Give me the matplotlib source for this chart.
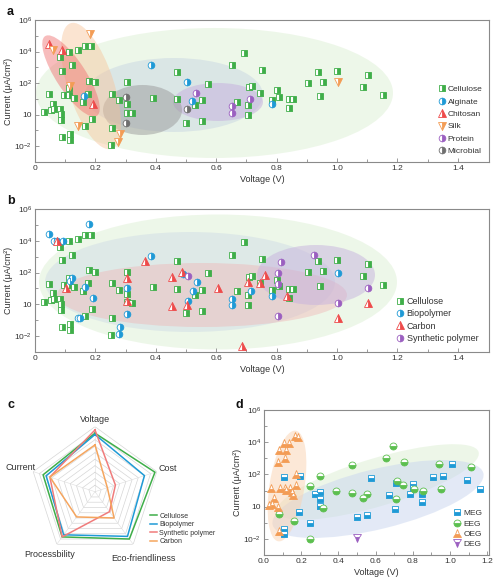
import numpy as np
import matplotlib
matplotlib.use('Agg')
import matplotlib.pyplot as plt
from matplotlib.patches import Ellipse
from matplotlib.transforms import Affine2D
from matplotlib.ticker import FixedLocator, NullFormatter

plt.rcParams['font.family'] = ['Liberation Sans', 'DejaVu Sans']
plt.rcParams['mathtext.fontset'] = 'custom'
plt.rcParams['mathtext.rm'] = 'Liberation Sans'
plt.rcParams['mathtext.it'] = 'Liberation Sans:italic'

# ---------------- data (voltage in V, log10 of current in uA/cm2) ----------------
cellulose_v = [0.031, 0.046, 0.052, 0.058, 0.063, 0.083, 0.085, 0.085, 0.083, 0.088, 0.088,
               0.116, 0.116, 0.114, 0.121, 0.143, 0.166, 0.185, 0.097, 0.114, 0.129, 0.114,
               0.158, 0.180, 0.199, 0.176, 0.190, 0.166, 0.254, 0.278, 0.254, 0.252, 0.304,
               0.304, 0.304, 0.320, 0.390, 0.469, 0.469, 0.500, 0.530, 0.554, 0.554, 0.572,
               0.651, 0.670, 0.693, 0.710, 0.720, 0.705, 0.705, 0.745, 0.753, 0.783, 0.802,
               0.807, 0.840, 0.855, 0.840, 0.903, 0.938, 0.954, 0.945, 1.000, 1.085, 1.104, 1.153]
cellulose_logi = [0.17, 1.28, 0.28, 0.70, 0.34, 0.35, 0.05, -0.33, 3.63, 2.79, -1.44,
                  -1.23, -1.61, 3.97, 3.13, 4.11, 4.38, 4.38, 1.24, 1.24, 1.08, 1.66,
                  0.82, 2.16, 2.06, 1.33, -0.29, -0.71, 1.33, 0.90, -0.87, -1.92, 2.06,
                  0.65, 0.13, 0.09, 1.08, 2.71, 0.97, -0.56, 0.60, 0.90, -0.43, 1.96,
                  3.13, 0.83, 3.90, 1.74, 1.80, 0.61, -0.02, 1.35, 2.86, 0.93, 1.56,
                  1.14, 0.97, 0.97, 0.40, 2.02, 2.71, 2.08, 1.18, 2.79, 1.77, 2.54, 1.22]

alginate_v = [0.383, 0.502, 0.163, 0.520, 0.784]
alginate_logi = [3.13, 2.06, 1.18, 0.87, 0.67]
chitosan_v = [0.045, 0.089, 0.192]
chitosan_logi = [4.45, 4.11, 0.65]
silk_v = [0.058, 0.181, 0.116, 0.143, 0.281, 0.276, 1.004]
silk_logi = [4.09, 5.13, 1.80, -0.71, -1.23, -1.72, 2.06]
protein_v = [0.533, 0.653, 0.653, 0.713]
protein_logi = [1.39, 0.55, 0.10, 0.97]
microbial_v = [0.301, 0.301, 0.504]
microbial_logi = [1.14, -0.50, 0.36]

biopolymer_v = [0.047, 0.062, 0.072, 0.092, 0.180, 0.383, 0.121, 0.116, 0.166, 0.193,
                0.143, 0.149, 0.304, 0.304, 0.281, 0.279, 0.490, 0.535, 0.524, 0.505,
                0.651, 0.651, 0.715, 0.784, 1.004]
biopolymer_logi = [4.40, 3.99, 3.99, 3.99, 5.05, 3.02, 1.66, 1.49, 1.11, 0.43,
                   -0.84, -0.84, 1.00, -0.60, -1.43, -1.85, 1.90, 1.38, 0.81, 0.22,
                   0.33, -0.03, 0.81, 0.54, 1.96]
carbon_v = [0.072, 0.103, 0.304, 0.304, 0.364, 0.453, 0.453, 0.486, 0.502, 0.605,
            0.684, 0.705, 0.744, 0.763, 0.835, 1.004, 1.104]
carbon_logi = [3.99, 1.00, 1.66, 0.18, 2.72, 1.75, -0.10, 2.02, -0.03, 1.03,
               -2.63, 1.38, 1.35, 1.83, 0.54, -0.88, 0.11]
synthetic_v = [0.508, 0.814, 0.923, 0.806, 0.806, 1.104, 1.004, 0.806]
synthetic_logi = [1.81, 2.64, 3.13, 2.00, 1.25, 1.00, 0.11, -0.71]

meg_v = [0.106, 0.196, 0.187, 0.110, 0.110, 0.250, 0.276, 0.303, 0.303, 0.303, 0.500, 0.553,
         0.575, 0.670, 0.710, 0.705, 0.786, 0.803, 0.803, 0.848, 0.848, 0.907, 0.961, 1.009,
         1.093, 1.161]
meg_logi = [1.84, 1.90, -0.34, -1.38, -1.69, -1.00, 0.81, 0.91, 0.45, 0.03, -0.65, -0.50,
            1.78, 0.70, 1.49, -0.13, 0.81, 1.43, 1.16, 0.81, 0.28, 1.84, 1.90, 2.67,
            1.64, 1.12]
eeg_v = [0.080, 0.160, 0.250, 0.303, 0.317, 0.389, 0.250, 0.473, 0.473, 0.532, 0.553, 0.657,
         0.696, 0.714, 0.709, 0.746, 0.753, 0.807, 0.857, 0.943, 0.950, 1.111]
eeg_logi = [-0.44, -0.86, 1.28, 1.90, -0.09, 0.95, -2.00, 0.87, 2.57, 0.53, 0.81, 3.03,
            3.77, 1.57, 0.45, 1.32, 2.74, 1.08, 0.95, 2.63, 1.08, 2.43]
oeg_v = [0.169, 0.183, 0.133, 0.106, 0.119, 0.080, 0.076, 0.112, 0.172, 0.040, 0.088, 0.112,
         0.119, 0.142, 0.172, 0.154, 0.053, 0.026, 0.044, 0.076, 0.080, 0.151]
oeg_logi = [4.38, 4.34, 3.96, 3.92, 3.50, 3.50, 2.78, 2.99, 2.00, 1.18, 1.18, 1.18,
            1.01, 1.18, 1.32, 0.70, 0.56, 0.08, 0.18, -0.03, -1.54, 0.91]
deg_v = [0.50]
deg_logi = [-1.96]

radar_axes = ['Voltage', 'Cost', 'Eco-friendliness', 'Processbility', 'Current']
radar_cellulose = [0.90, 0.97, 0.90, 0.86, 0.84]
radar_biopolymer = [0.88, 0.80, 0.85, 0.82, 0.79]
radar_synthetic = [0.95, 0.33, 0.38, 0.86, 0.73]
radar_carbon = [0.72, 0.20, 0.50, 0.48, 0.73]

# ---------------- styling ----------------
GREEN = '#3fae49'
BLUE = '#1f9ad6'
RED = '#ee4a4a'
ORANGE = '#f39c55'
PURPLE = '#9b5fc0'
GRAY = '#6f6f6f'
FRAME = '#8a8a8a'
TXT = '#333333'

ytick_vals = [1e-2, 1, 1e2, 1e4, 1e6]
ytick_labels = ['10$^{-2}$', '10', '10$^{2}$', '10$^{4}$', '10$^{6}$']
yminor = [1e-1, 1e1, 1e3, 1e5]

fig = plt.figure(figsize=(5.0, 5.85), dpi=100)


def style_axes(ax, xlim, xticks, xticklabels, xminor):
    ax.set_yscale('log')
    ax.set_ylim(1e-3, 1e6)
    ax.set_xlim(*xlim)
    ax.set_yticks(ytick_vals)
    ax.set_yticklabels(ytick_labels)
    ax.yaxis.set_minor_locator(FixedLocator(yminor))
    ax.yaxis.set_minor_formatter(NullFormatter())
    ax.set_xticks(xticks)
    ax.set_xticklabels(xticklabels)
    ax.xaxis.set_minor_locator(FixedLocator(xminor))
    ax.xaxis.set_minor_formatter(NullFormatter())
    ax.tick_params(which='both', direction='in', colors=FRAME, labelcolor=TXT,
                   labelsize=6, width=0.6, pad=2)
    ax.tick_params(which='major', length=3)
    ax.tick_params(which='minor', length=2)
    for s in ax.spines.values():
        s.set_color(FRAME)
        s.set_linewidth(0.8)
    ax.set_xlabel('Voltage (V)', fontsize=6.5, color=TXT, labelpad=2)
    ax.set_ylabel('Current (μA/cm²)', fontsize=6.5, color=TXT, labelpad=1)


def add_region(ax, cx, cy, w, h, angle, color, alpha):
    # region geometry given in pixels relative to the axes' lower-left corner
    W, H = ax.bbox.width, ax.bbox.height
    tr = Affine2D().scale(1.0 / W, 1.0 / H) + ax.transAxes
    e = Ellipse((cx, cy), w, h, angle=angle, transform=tr, facecolor=color,
                alpha=alpha, edgecolor='none', zorder=0)
    ax.add_patch(e)


def pts(ax, v, logi, marker, color, label, fill='right', ms=4.4):
    ax.plot(v, np.power(10.0, logi), linestyle='none', marker=marker, fillstyle=fill,
            markerfacecolor=color, markerfacecoloralt='white', markeredgecolor=color,
            markersize=ms, markeredgewidth=0.6, label=label, zorder=3)


xt = [0, 0.2, 0.4, 0.6, 0.8, 1.0, 1.2, 1.4]
xtl = ['0', '0.2', '0.4', '0.6', '0.8', '1.0', '1.2', '1.4']
xminor_ab = [0.1, 0.3, 0.5, 0.7, 0.9, 1.1, 1.3]

# ---------------- panel a ----------------
axa = fig.add_axes([0.07, 0.7231, 0.908, 0.2427])
style_axes(axa, (0, 1.503), xt, xtl, xminor_ab)
add_region(axa, 179.5, 69, 357, 130, 0, '#d9eecf', 0.45)
add_region(axa, 139, 67, 178, 74, 0, '#c4d2e2', 0.45)
add_region(axa, 183, 60, 90, 38, 0, '#c7b2de', 0.55)
add_region(axa, 107.5, 52, 79, 50, 0, '#9a9a9a', 0.5)
add_region(axa, 56, 76, 132, 46, -72, '#f7c49a', 0.45)
add_region(axa, 36, 86, 95, 30, -57, '#ef6b6b', 0.45)
pts(axa, cellulose_v, cellulose_logi, 's', GREEN, 'Cellulose')
pts(axa, alginate_v, alginate_logi, 'o', BLUE, 'Alginate', ms=4.8)
pts(axa, chitosan_v, chitosan_logi, '^', RED, 'Chitosan', ms=5.2)
pts(axa, silk_v, silk_logi, 'v', ORANGE, 'Silk', ms=5.2)
pts(axa, protein_v, protein_logi, 'o', PURPLE, 'Protein', ms=4.8)
pts(axa, microbial_v, microbial_logi, 'o', GRAY, 'Microbial', ms=4.8)
axa.legend(loc='lower right', frameon=False, fontsize=6, handletextpad=0.2,
           labelspacing=0.55, borderaxespad=0.4, handlelength=1.0, labelcolor=TXT)

# ---------------- panel b ----------------
axb = fig.add_axes([0.07, 0.3983, 0.908, 0.2444])
style_axes(axb, (0, 1.503), xt, xtl, xminor_ab)
add_region(axb, 183, 70, 358, 135, 0, '#d9eecf', 0.45)
add_region(axb, 155, 70, 290, 100, 0, '#c9d6e4', 0.4)
add_region(axb, 167, 57, 290, 64, 0, '#f0b0b0', 0.4)
add_region(axb, 281, 77, 118, 60, 0, '#c7b2de', 0.5)
pts(axb, cellulose_v, cellulose_logi, 's', GREEN, 'Cellulose')
pts(axb, biopolymer_v, biopolymer_logi, 'o', BLUE, 'Biopolymer', ms=4.8)
pts(axb, carbon_v, carbon_logi, '^', RED, 'Carbon', ms=5.2)
pts(axb, synthetic_v, synthetic_logi, 'o', PURPLE, 'Synthetic polymer', ms=4.8)
axb.legend(loc='lower right', bbox_to_anchor=(0.99, 0.02), frameon=False, fontsize=6.5,
           handletextpad=0.2, labelspacing=0.35, borderaxespad=0.3, handlelength=1.0,
           labelcolor=TXT)

# ---------------- panel c (radar) ----------------
axc = fig.add_axes([0.06, 0.0484, 0.26, 0.2222], projection='polar')
axc.set_theta_offset(np.pi / 2)
axc.set_theta_direction(-1)
axc.set_ylim(0, 1)
axc.axis('off')
ang = np.linspace(0, 2 * np.pi, len(radar_axes), endpoint=False)
ang_c = np.concatenate([ang, ang[:1]])
for lev in np.arange(0.1, 1.01, 0.1):
    axc.plot(ang_c, [lev] * len(ang_c), color='#d6d6d6', lw=0.5, zorder=1)
for a in ang:
    axc.plot([a, a], [0, 1], color='#dedede', lw=0.4, zorder=1)
series_c = [(radar_cellulose, GREEN, 'Cellulose'),
            (radar_biopolymer, BLUE, 'Biopolymer'),
            (radar_synthetic, '#f07c7c', 'Synthetic polymer'),
            (radar_carbon, '#f5a55e', 'Carbon')]
for vals, col, lab in series_c:
    axc.plot(ang_c, vals + vals[:1], color=col, lw=1.1, label=lab, zorder=3)
label_r = [1.11, 1.17, 1.27, 1.2, 1.2]
for a, lab, r in zip(ang, radar_axes, label_r):
    axc.text(a, r, lab, ha='center', va='center', fontsize=6.5, color=TXT)
axc.legend(loc='upper left', bbox_to_anchor=(0.295, 0.128), bbox_transform=fig.transFigure,
           frameon=False, fontsize=5, handlelength=1.0, handletextpad=0.3,
           labelspacing=0.2, borderaxespad=0, labelcolor=TXT)

# ---------------- panel d ----------------
axd = fig.add_axes([0.528, 0.0513, 0.45, 0.2479])
style_axes(axd, (0, 1.21), [0, 0.2, 0.4, 0.6, 0.8, 1.0, 1.2],
           ['0.0', '0.2', '0.4', '0.6', '0.8', '1.0', '1.2'],
           [0.1, 0.3, 0.5, 0.7, 0.9, 1.1])
add_region(axd, 114, 73, 210, 48, 16.6, '#dcefd2', 0.5)
add_region(axd, 114, 56, 217, 60, 13.8, '#c8d5ef', 0.5)
add_region(axd, 23, 69, 112, 35, 81, '#fad2b0', 0.5)
pts(axd, meg_v, meg_logi, 's', BLUE, 'MEG', fill='bottom', ms=4.8)
pts(axd, eeg_v, eeg_logi, 'o', '#5cbf4f', 'EEG', fill='bottom', ms=5.0)
pts(axd, oeg_v, oeg_logi, '^', ORANGE, 'OEG', fill='bottom', ms=5.4)
pts(axd, deg_v, deg_logi, 'v', PURPLE, 'DEG', fill='bottom', ms=5.4)
axd.legend(loc='lower right', frameon=False, fontsize=6, handletextpad=0.3,
           labelspacing=0.3, borderaxespad=0.4, handlelength=1.0, labelcolor=TXT)

# ---------------- panel letters ----------------
for x, y, s in [(7, 12, 'a'), (7, 201, 'b'), (7, 405, 'c'), (235, 405, 'd')]:
    fig.text(x / 500, 1 - y / 585, s, fontsize=9, fontweight='bold', ha='left', va='center',
             color='#111111')

fig.savefig('out.png', dpi=100)
